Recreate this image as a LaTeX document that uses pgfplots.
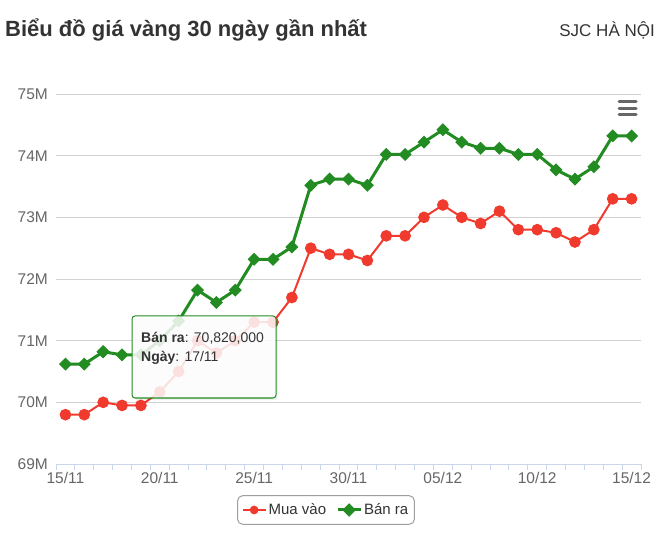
\documentclass[border=0pt]{standalone}
\usepackage{fontspec}
\setmainfont{Liberation Sans}
\usepackage{pgfplots}
\pgfplotsset{compat=1.18}
\definecolor{redc}{RGB}{240,58,46}
\definecolor{greenc}{RGB}{34,139,34}
\definecolor{txt}{RGB}{51,51,51}
\definecolor{lbl}{RGB}{102,102,102}
\definecolor{axc}{RGB}{204,214,235}
\definecolor{gridc}{RGB}{210,210,210}
\begin{document}
\begin{tikzpicture}[x=1pt,y=1pt]
\useasboundingbox (0,0) rectangle (666,557);
\node[anchor=base west, inner sep=0pt, font=\fontsize{22}{26}\selectfont\bfseries, text=txt] at (5,520) {Biểu đồ giá vàng 30 ngày gần nhất};
\node[anchor=base east, inner sep=0pt, font=\fontsize{17}{20}\selectfont, text=txt] at (655,520) {SJC HÀ NỘI};
\begin{axis}[
  at={(56pt,93pt)}, anchor=south west,
  width=585pt, height=370pt, scale only axis,
  xmin=-0.5, xmax=30.5, ymin=69, ymax=75,
  clip=false,
  axis x line*=bottom, axis y line*=left,
  x axis line style={draw=axc, line width=1pt, -},
  y axis line style={draw=none},
  xtick={0,5,...,30},
  xticklabels={15/11,20/11,25/11,30/11,05/12,10/12,15/12},
  minor xtick={-0.5,0.5,...,30.5},
  ytick={69,...,75},
  yticklabels={69M,70M,71M,72M,73M,74M,75M},
  ymajorgrids, grid style={draw=gridc, line width=1pt},
  major tick length=0pt, minor tick length=6pt, tick align=outside,
  minor tick style={draw=axc, line width=1pt},
  yticklabel style={font=\fontsize{15.5}{18}\selectfont, text=lbl, inner sep=0pt, xshift=-8pt},
  xticklabel style={font=\fontsize{15.5}{18}\selectfont, text=lbl, inner sep=0pt, yshift=-8pt},
  legend style={at={(0.4615,-0.1243)}, anchor=center, draw=gray!75, line width=1pt,
    rounded corners=5pt, font=\fontsize{15}{18}\selectfont, text=txt,
    inner xsep=4pt, inner ysep=6pt,
    /tikz/every even column/.append style={column sep=8pt}},
  legend columns=2,
  legend image code/.code={\draw[mark repeat=2,mark phase=2, mark size=3.3pt] plot coordinates {(0pt,0pt) (11.5pt,0pt) (23pt,0pt)};},
]
\addplot[color=redc, line width=2pt, mark=*, mark size=4.8pt, mark options={draw=none, fill=redc}] coordinates {
(0,69.8) (1,69.8) (2,70.0) (3,69.95) (4,69.95) (5,70.17) (6,70.5) (7,71.0) (8,70.8) (9,71.0)
(10,71.3) (11,71.3) (12,71.7) (13,72.5) (14,72.4) (15,72.4) (16,72.3) (17,72.7) (18,72.7) (19,73.0)
(20,73.2) (21,73.0) (22,72.9) (23,73.1) (24,72.8) (25,72.8) (26,72.75) (27,72.6) (28,72.8) (29,73.3) (30,73.3)};
\addlegendentry{Mua vào}
\addplot[color=greenc, line width=3pt, mark=square*, mark size=3.1pt, mark options={rotate=45, draw=none, fill=greenc}] coordinates {
(0,70.62) (1,70.62) (2,70.82) (3,70.77) (4,70.77) (5,71.0) (6,71.32) (7,71.82) (8,71.62) (9,71.82)
(10,72.32) (11,72.32) (12,72.52) (13,73.52) (14,73.62) (15,73.62) (16,73.52) (17,74.02) (18,74.02) (19,74.22)
(20,74.42) (21,74.22) (22,74.12) (23,74.12) (24,74.02) (25,74.02) (26,73.77) (27,73.62) (28,73.82) (29,74.32) (30,74.32)};
\addlegendentry{Bán ra}
\addplot[forget plot, only marks, color=greenc, mark=square*, mark size=4.4pt, mark options={rotate=45, draw=greenc, fill=greenc}] coordinates {(2,70.82)};
\end{axis}
% tooltip
\fill[black, opacity=0.06, rounded corners=3pt] (134,157) rectangle (278,239);
\draw[greenc, line width=1pt, rounded corners=3pt, fill=white, fill opacity=0.85] (132,159) rectangle (276,241);
\node[anchor=base west, inner sep=0pt, font=\fontsize{14}{16}\selectfont, text=txt] at (141,214.5) {\textbf{Bán ra}: 70,820,000};
\node[anchor=base west, inner sep=0pt, font=\fontsize{14}{16}\selectfont, text=txt] at (141,195.5) {\textbf{Ngày}: 17/11};
% menu icon
\draw[lbl, line width=3pt, line cap=round] (619,455) -- (636,455);
\draw[lbl, line width=3pt, line cap=round] (619,448.7) -- (636,448.7);
\draw[lbl, line width=3pt, line cap=round] (619,442.3) -- (636,442.3);
\end{tikzpicture}
\end{document}
